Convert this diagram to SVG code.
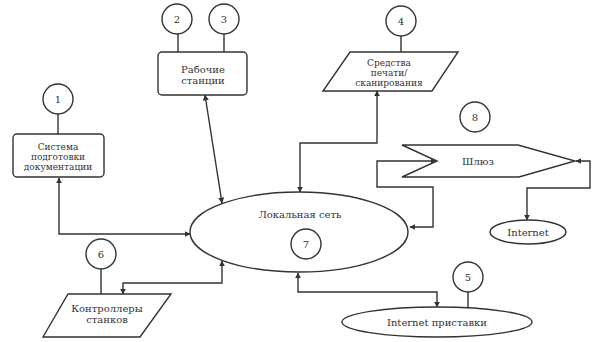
<svg xmlns="http://www.w3.org/2000/svg" width="592" height="342" viewBox="0 0 592 342">
<style>
.s{fill:#fff;stroke:#333;stroke-width:1.4}
.c{fill:none;stroke:#333;stroke-width:1.4}
.b{fill:none;stroke:#333;stroke-width:1.4;marker-end:url(#a);marker-start:url(#a)}
text{font-family:"DejaVu Serif","Liberation Serif",serif;font-size:10px;fill:#333;text-anchor:middle}
.t{font-size:9px}
</style>
<defs>
<marker id="a" viewBox="0 0 10 10" refX="9" refY="5" markerWidth="6" markerHeight="6" markerUnits="userSpaceOnUse" orient="auto-start-reverse">
<path d="M0,0 L10,5 L0,10 z" fill="#333"/>
</marker>
</defs>
<g id="connectors">
<line class="c" x1="58" y1="113" x2="58" y2="134"/>
<line class="c" x1="178" y1="33" x2="178" y2="52"/>
<line class="c" x1="224" y1="33" x2="224" y2="52"/>
<line class="c" x1="401" y1="36" x2="401" y2="52"/>
<line class="c" x1="101" y1="269" x2="101" y2="294"/>
<line class="c" x1="468" y1="292" x2="468" y2="308"/>
<polyline class="b" points="59,178 59,234 190,234"/>
<polyline class="b" points="205,95 222,203"/>
<polyline class="b" points="377,91 377,143 300,143 300,192"/>
<polyline class="b" points="410,227 433,227 433,187 377,187 377,161 436,161"/>
<polyline class="b" points="576,161 590,161 590,188 527,188 527,220"/>
<polyline class="b" points="123,294 123,283 222,283 222,261"/>
<polyline class="b" points="298,273 298,292 437,292 437,307"/>
</g>
<g id="n1"><circle class="s" cx="58" cy="99" r="15"/><text x="58" y="103">1</text></g>
<g id="n-doc"><rect class="s" x="13" y="134" width="91" height="43" rx="4"/><text class="t" x="58" y="150">Система</text><text class="t" x="58" y="160">подготовки</text><text class="t" x="58" y="170">документации</text></g>
<g id="n2"><circle class="s" cx="177" cy="19" r="15"/><text x="177" y="23">2</text></g>
<g id="n3"><circle class="s" cx="224" cy="19" r="15"/><text x="224" y="23">3</text></g>
<g id="n-ws"><rect class="s" x="158" y="52" width="89" height="43" rx="4"/><text x="203" y="73">Рабочие</text><text x="203" y="84">станции</text></g>
<g id="n4"><circle class="s" cx="401" cy="21" r="15"/><text x="401" y="25">4</text></g>
<g id="n-print"><polygon class="s" points="350,52 458,52 432,91 323,91"/><text class="t" x="389" y="66">Средства</text><text class="t" x="389" y="76">печати/</text><text class="t" x="389" y="86">сканирования</text></g>
<g id="n8"><circle class="s" cx="475" cy="117" r="15"/><text x="475" y="121">8</text></g>
<g id="n-gw"><polygon class="s" points="402,145 518,145 575,161 519,177 402,177 437,161"/><text x="478" y="165">Шлюз</text></g>
<g id="n-inet"><ellipse class="s" cx="528" cy="232" rx="38" ry="12"/><text x="528" y="236">Internet</text></g>
<g id="n-lan"><ellipse class="s" cx="299" cy="232" rx="109" ry="40"/><text x="300" y="218">Локальная сеть</text></g>
<g id="n7"><circle class="s" cx="306" cy="244" r="15"/><text x="306" y="248">7</text></g>
<g id="n6"><circle class="s" cx="101" cy="254" r="15"/><text x="101" y="258">6</text></g>
<g id="n-ctrl"><polygon class="s" points="68,294 171,294 140,337 43,337"/><text x="107" y="312">Контроллеры</text><text x="107" y="323">станков</text></g>
<g id="n5"><circle class="s" cx="468" cy="277" r="15"/><text x="468" y="281">5</text></g>
<g id="n-stb"><ellipse class="s" cx="437" cy="322" rx="95" ry="15"/><text x="437" y="326">Internet приставки</text></g>
</svg>
